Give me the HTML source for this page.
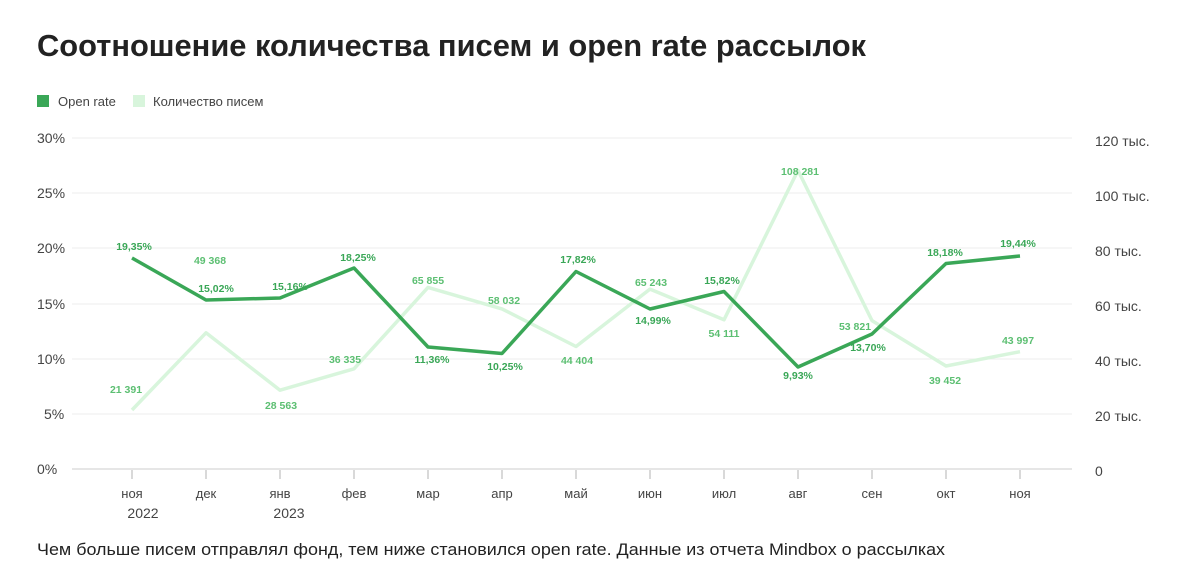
<!DOCTYPE html>
<html><head><meta charset="utf-8"><style>
body{margin:0;background:#fff;width:1200px;height:570px;overflow:hidden;font-family:"Liberation Sans",sans-serif}
</style></head><body>
<svg width="1200" height="570" xmlns="http://www.w3.org/2000/svg" font-family="Liberation Sans, sans-serif">
<text x="37" y="56" font-size="31" font-weight="bold" fill="#222" textLength="829" lengthAdjust="spacingAndGlyphs">Соотношение количества писем и open rate рассылок</text>
<rect x="37" y="95" width="12" height="12" fill="#3aa757"/>
<text x="58" y="106" font-size="13" fill="#444">Open rate</text>
<rect x="133" y="95" width="12" height="12" fill="#d8f5dc"/>
<text x="153" y="106" font-size="13" fill="#444">Количество писем</text>
<g stroke="#eee" stroke-width="1">
<line x1="72" y1="138" x2="1072" y2="138"/><line x1="72" y1="193" x2="1072" y2="193"/>
<line x1="72" y1="248" x2="1072" y2="248"/><line x1="72" y1="304" x2="1072" y2="304"/>
<line x1="72" y1="359" x2="1072" y2="359"/><line x1="72" y1="414" x2="1072" y2="414"/>
</g>
<line x1="72" y1="469" x2="1072" y2="469" stroke="#ddd" stroke-width="1.5"/>
<g font-size="14" fill="#444">
<text x="37" y="143">30%</text><text x="37" y="198">25%</text><text x="37" y="253">20%</text>
<text x="37" y="309">15%</text><text x="37" y="364">10%</text><text x="44" y="419">5%</text><text x="37" y="474">0%</text>
<text x="1095" y="146">120 тыс.</text><text x="1095" y="201">100 тыс.</text><text x="1095" y="256">80 тыс.</text>
<text x="1095" y="311">60 тыс.</text><text x="1095" y="366">40 тыс.</text><text x="1095" y="421">20 тыс.</text><text x="1095" y="476">0</text>
</g>
<g stroke="#ccc" stroke-width="1.5">
<line x1="132" y1="470" x2="132" y2="479"/><line x1="206" y1="470" x2="206" y2="479"/><line x1="280" y1="470" x2="280" y2="479"/>
<line x1="354" y1="470" x2="354" y2="479"/><line x1="428" y1="470" x2="428" y2="479"/><line x1="502" y1="470" x2="502" y2="479"/>
<line x1="576" y1="470" x2="576" y2="479"/><line x1="650" y1="470" x2="650" y2="479"/><line x1="724" y1="470" x2="724" y2="479"/>
<line x1="798" y1="470" x2="798" y2="479"/><line x1="872" y1="470" x2="872" y2="479"/><line x1="946" y1="470" x2="946" y2="479"/>
<line x1="1020" y1="470" x2="1020" y2="479"/>
</g>
<g font-size="13" fill="#444" text-anchor="middle">
<text x="132" y="498">ноя</text><text x="206" y="498">дек</text><text x="280" y="498">янв</text><text x="354" y="498">фев</text>
<text x="428" y="498">мар</text><text x="502" y="498">апр</text><text x="576" y="498">май</text><text x="650" y="498">июн</text>
<text x="724" y="498">июл</text><text x="798" y="498">авг</text><text x="872" y="498">сен</text><text x="946" y="498">окт</text><text x="1020" y="498">ноя</text>
<text x="143" y="518" font-size="14">2022</text><text x="289" y="518" font-size="14">2023</text>
</g>
<polyline fill="none" stroke="#d8f5dc" stroke-width="3.5" stroke-linejoin="round" points="132,410 206,332.8 280,390.2 354,368.8 428,287.4 502,308.9 576,346.5 650,289.1 724,319.8 798,170.4 872,320.6 946,366 1020,351.7"/>
<polyline fill="none" stroke="#3aa757" stroke-width="3.5" stroke-linejoin="round" points="132,258 206,300 280,298 354,268 428,347 502,353.5 576,271.5 650,309 724,291.5 798,367 872,334 946,263.5 1020,256"/>
<g font-size="10.5" font-weight="bold" fill="#3aa757" text-anchor="middle">
<text x="134" y="250">19,35%</text><text x="216" y="292">15,02%</text><text x="290" y="290">15,16%</text><text x="358" y="261">18,25%</text>
<text x="432" y="363">11,36%</text><text x="505" y="370">10,25%</text><text x="578" y="263">17,82%</text><text x="653" y="324">14,99%</text>
<text x="722" y="284">15,82%</text><text x="798" y="379">9,93%</text><text x="868" y="351">13,70%</text><text x="945" y="256">18,18%</text><text x="1018" y="247">19,44%</text>
</g>
<g font-size="10.5" font-weight="bold" fill="#5cbf72" text-anchor="middle">
<text x="126" y="393">21 391</text><text x="210" y="264">49 368</text><text x="281" y="409">28 563</text><text x="345" y="363">36 335</text>
<text x="428" y="284">65 855</text><text x="504" y="304">58 032</text><text x="577" y="364">44 404</text><text x="651" y="286">65 243</text>
<text x="724" y="337">54 111</text><text x="800" y="175">108 281</text><text x="855" y="330">53 821</text><text x="945" y="384">39 452</text><text x="1018" y="344">43 997</text>
</g>
<text x="37" y="555" font-size="17" fill="#222" textLength="908" lengthAdjust="spacingAndGlyphs">Чем больше писем отправлял фонд, тем ниже становился open rate. Данные из отчета Mindbox о рассылках</text>
</svg>
</body></html>
